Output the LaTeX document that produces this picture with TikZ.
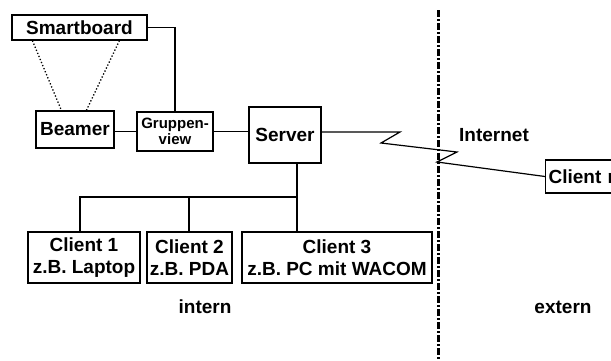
\documentclass[tikz,border=0pt]{standalone}
\usepackage{fontspec}
\setmainfont{Liberation Sans}
\usetikzlibrary{calc}
\begin{document}
\begin{tikzpicture}[x=1pt,y=-1pt,
  every node/.style={font=\fontsize{19}{22}\selectfont\bfseries},
  box/.style={draw,line width=1.2pt,inner sep=0pt,align=center},
  conn/.style={line width=1.8pt},
  small/.style={font=\fontsize{15}{17}\selectfont\bfseries}]
\useasboundingbox (0,0) rectangle (611,360);
\clip (0,0) rectangle (611,360);
\node[box,minimum width=135pt,minimum height=25pt] (sb) at (79.5,27.5) {Smartboard};
\node[box,minimum width=78pt,minimum height=37pt] (beamer) at (75,129.5) {Beamer};
\node[box,minimum width=76pt,minimum height=39pt,small] (gv) at (175,131.5) {Gruppen-\\[-1pt]view};
\node[box,minimum width=72pt,minimum height=56pt] (server) at (285,135) {Server};
\node[box,minimum width=112pt,minimum height=51pt] (c1) at (84,257.5) {Client 1\\z.B. Laptop};
\node[box,minimum width=85pt,minimum height=51pt] (c2) at (189.5,257.5) {Client 2\\z.B. PDA};
\node[box,minimum width=190pt,minimum height=51pt] (c3) at (337,257.5) {Client 3\\z.B. PC mit WACOM};
\node[box,anchor=west,minimum width=120pt,minimum height=33pt,text width=114pt,align=left,inner xsep=3pt] (cn) at (545,176.5) {Client n};
\node (internet) at (494,135) {Internet};
\node (intern) at (205,307) {intern};
\node (extern) at (563,307) {extern};
% connectors
\draw[line width=1.3pt] (sb.east) -| (gv.north);
\draw[dotted,line width=1.3pt] ($(sb.south west)+(21,0)$) -- ($(beamer.north west)+(26,0)$);
\draw[dotted,line width=1.3pt] ($(sb.south west)+(108,0)$) -- ($(beamer.north west)+(51,0)$);
\draw[conn] (gv.west) -- (gv.west -| beamer.east);
\draw[conn] (gv.east) -- (gv.east -| server.west);
\coordinate (sd) at ($(server.south)+(12,0)$);
\coordinate (bus) at (297,197);
\draw[conn] (sd) -- (bus);
\draw[conn] (c1.north -| 80,0) |- (bus);
\draw[conn] (c2.north -| 189,0) -- (189,197);
\draw[conn] (c3.north -| bus) -- (bus);
\draw[line width=1.2pt] ($(server.east)+(0,-3)$) -- (400,132) -- (381,143) -- (457,152) -- (437,162) -- (cn.west);
% divider
\coordinate (dtop) at (438,10);
\coordinate (dbot) at (438,360);
\draw[line width=3pt,dash pattern=on 7pt off 2pt on 2pt off 2pt] (dtop) -- (dbot);
\end{tikzpicture}
\end{document}
